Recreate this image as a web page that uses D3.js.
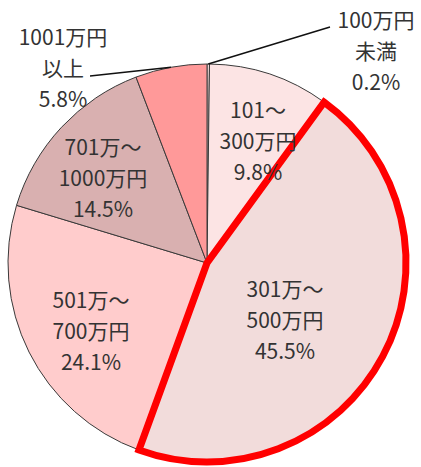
<!DOCTYPE html>
<html lang="ja">
<head>
    <meta charset="UTF-8">
    <title>年収分布</title>
    <script src="https://d3js.org/d3.v7.min.js"></script>
    <style>
        body { margin: 0; background: #fff; }
        svg text {
            font-family: "Noto Sans CJK JP", "Noto Sans", sans-serif;
            font-size: 21px;
            fill: #333;
        }
    </style>
</head>
<body>
    <svg id="chart" width="421" height="467"></svg>

    <script>
        // data, clockwise from 12 o'clock
        const categories = ['100万円未満', '101～300万円', '301万～500万円', '501万～700万円', '701万～1000万円', '1001万円以上'];
        const shares = [0.2, 9.8, 45.5, 24.1, 14.5, 5.8];
        const labelLines = [
            ['100万円', '未満', '0.2%'],
            ['101～', '300万円', '9.8%'],
            ['301万～', '500万円', '45.5%'],
            ['501万～', '700万円', '24.1%'],
            ['701万～', '1000万円', '14.5%'],
            ['1001万円', '以上', '5.8%']
        ];
        const colors = ['#fbe0e0', '#fce4e4', '#f2dcdb', '#ffcccc', '#d9b0b0', '#ff9999'];
        const highlight = '301万～500万円';

        const cx = 207, cy = 263, r = 199;
        const lineH = 31;

        // label anchor (center x, first baseline y)
        const labelPos = [[376, 28], [258, 118], [285, 297], [91, 308], [103, 155], [63, 45]];

        const svg = d3.select('#chart');
        const g = svg.append('g').attr('transform', `translate(${cx},${cy})`);

        const data = categories.map((c, i) => ({ name: c, value: shares[i], lines: labelLines[i], color: colors[i] }));

        const pie = d3.pie().value(d => d.value).sort(null);
        const arcs = pie(data);
        const arc = d3.arc().innerRadius(0).outerRadius(r);

        g.selectAll('path.slice')
            .data(arcs)
            .enter().append('path')
            .attr('class', 'slice')
            .attr('d', arc)
            .attr('fill', d => d.data.color)
            .attr('stroke', '#3a3a3a')
            .attr('stroke-width', 1);

        // red outline for highlighted slice, drawn on top
        g.selectAll('path.hl')
            .data(arcs.filter(d => d.data.name === highlight))
            .enter().append('path')
            .attr('class', 'hl')
            .attr('d', arc)
            .attr('fill', 'none')
            .attr('stroke', '#ff0000')
            .attr('stroke-width', 7)
            .attr('stroke-linejoin', 'miter');

        arcs.forEach((a, i) => {
            const x = labelPos[i][0], y = labelPos[i][1];
            const t = svg.append('text')
                .attr('text-anchor', 'middle')
                .attr('x', x)
                .attr('y', y);
            a.data.lines.forEach((s, k) => {
                t.append('tspan')
                    .attr('x', x)
                    .attr('y', y + k * lineH)
                    .text(s);
            });
        });

        // leader lines for outside labels
        const edge = a => {
            const m = (a.startAngle + a.endAngle) / 2;
            return [cx + r * Math.sin(m), cy - r * Math.cos(m)];
        };
        const leaders = [
            { i: 0, to: [330, 27] },
            { i: 5, to: [90, 76] }
        ];
        leaders.forEach(l => {
            const p = edge(arcs[l.i]);
            svg.append('line')
                .attr('x1', p[0]).attr('y1', p[1])
                .attr('x2', l.to[0]).attr('y2', l.to[1])
                .attr('stroke', '#111')
                .attr('stroke-width', 1.5);
        });
    </script>
</body>
</html>
